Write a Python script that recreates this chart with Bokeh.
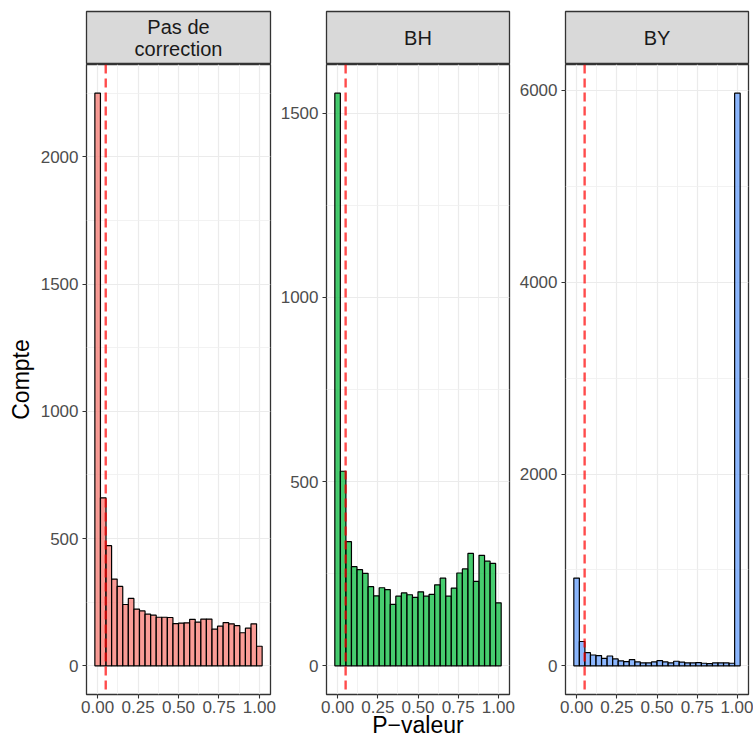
import numpy as np
from bokeh.plotting import figure
from bokeh.layouts import row, column
from bokeh.models import Range1d, FixedTicker, Span, ColumnDataSource
from bokeh.embed import file_html
from bokeh.resources import INLINE
from bokeh.core.properties import value

# ---------------- data ----------------
panel_titles = ["Pas de\ncorrection", "BH", "BY"]
counts_none = [2250, 660, 472, 341, 312, 241, 265, 223, 216, 203, 199, 191, 191, 190, 166,
               168, 169, 183, 172, 184, 184, 144, 156, 170, 165, 158, 130, 148, 165, 77]
counts_bh = [1554, 528, 337, 269, 261, 251, 215, 190, 212, 207, 167, 189, 198, 193, 186,
             201, 189, 194, 220, 238, 189, 211, 252, 263, 305, 229, 300, 284, 278, 171]
counts_by = [915, 254, 137, 113, 107, 79, 103, 72, 52, 45, 65, 41, 31, 31, 41,
             55, 41, 31, 48, 38, 31, 31, 34, 27, 24, 31, 31, 31, 27, 5971]
fill_colors = ["#F8766D", "#00BA38", "#619CFF"]
x_ticks = [0.0, 0.25, 0.5, 0.75, 1.0]
x_minor = [0.125, 0.375, 0.625, 0.875]
x_tick_labels = ["0.00", "0.25", "0.50", "0.75", "1.00"]
y_ticks_none = [0, 500, 1000, 1500, 2000]
y_ticks_bh = [0, 500, 1000, 1500]
y_ticks_by = [0, 2000, 4000, 6000]
threshold = 0.05
n_bins = 30
x_label = "P\u2212valeur"
y_label = "Compte"

FONT = "Liberation Sans"
frame_widths = [184, 183, 183]
borders_left = [86, 50, 50]
borders_right = [6, 6, 5]
TOP = 11
STRIP_H = 53
FRAME_H = 630

def minor_between(ticks):
    return [(a + b) / 2 for a, b in zip(ticks[:-1], ticks[1:])] + [ticks[-1] + (ticks[1] - ticks[0]) / 2]

def make_strip(title, fw, bl, br):
    s = figure(frame_width=fw, frame_height=STRIP_H, min_border_left=bl, min_border_right=br,
               min_border_top=TOP, min_border_bottom=0, x_range=Range1d(0, 1), y_range=Range1d(0, 1),
               x_axis_location=None, y_axis_location=None, toolbar_location=None,
               output_backend="svg", border_fill_color="white", background_fill_color="#D9D9D9",
               outline_line_color="#333333", outline_line_width=1.3)
    s.grid.visible = False
    s.text(x=[0.5], y=[0.5], text=[title], text_align="center", text_baseline="middle",
           text_font=value(FONT), text_font_size="20px", text_color="#1A1A1A", text_line_height=1.03)
    return s

def make_panel(counts, color, yticks, fw, bl, br, ylab=None, xlab=None):
    w = 1.0 / (n_bins - 1)
    centers = np.arange(n_bins) * w
    xmin, xmax = -w / 2, 1 + w / 2
    xpad = 0.05 * (xmax - xmin)
    ymax = max(counts)
    src = ColumnDataSource(dict(x=centers, top=counts))
    p = figure(frame_width=fw, frame_height=FRAME_H, min_border_left=bl, min_border_right=br,
               min_border_top=0, min_border_bottom=0,
               x_range=Range1d(xmin - xpad, xmax + xpad), y_range=Range1d(-0.05 * ymax, 1.05 * ymax),
               toolbar_location=None, output_backend="svg", background_fill_color="white",
               border_fill_color="white", outline_line_color="#333333", outline_line_width=1.3)
    p.vbar(x="x", top="top", bottom=0, width=w, source=src, fill_color=color, fill_alpha=0.72,
           line_color="black", line_width=1.2)
    p.add_layout(Span(location=threshold, dimension="height", line_color="red", line_alpha=0.7,
                      line_dash="9 5", line_width=2.4))
    p.xaxis.ticker = FixedTicker(ticks=x_ticks, minor_ticks=x_minor)
    p.xaxis.major_label_overrides = {t: l for t, l in zip(x_ticks, x_tick_labels)}
    p.yaxis.ticker = FixedTicker(ticks=yticks, minor_ticks=minor_between(yticks))
    p.yaxis.major_label_overrides = {t: str(t) for t in yticks}
    for ax in (p.xaxis, p.yaxis):
        ax.axis_line_color = None
        ax.major_tick_line_color = "#333333"
        ax.major_tick_line_width = 1.1
        ax.major_tick_out = 4
        ax.major_tick_in = 0
        ax.minor_tick_line_color = None
        ax.major_label_text_font = FONT
        ax.major_label_text_font_size = "17px"
        ax.major_label_text_color = "#4D4D4D"
        ax.axis_label_text_font = FONT
        ax.axis_label_text_font_style = "normal"
        ax.axis_label_text_color = "black"
        ax.axis_label_text_font_size = "23px"
    p.xaxis.major_label_standoff = 2
    p.yaxis.major_label_standoff = 4
    if ylab:
        p.yaxis.axis_label = ylab
        p.yaxis.axis_label_standoff = 4
    if xlab:
        p.xaxis.axis_label = xlab
        p.xaxis.axis_label_standoff = -4
    for g in (p.xgrid, p.ygrid):
        g.grid_line_color = "#EBEBEB"
        g.grid_line_width = 1.2
        g.minor_grid_line_color = "#EFEFEF"
        g.minor_grid_line_width = 0.8
    return p

all_counts = [counts_none, counts_bh, counts_by]
all_yticks = [y_ticks_none, y_ticks_bh, y_ticks_by]
cols = []
for i in range(3):
    strip = make_strip(panel_titles[i], frame_widths[i], borders_left[i], borders_right[i])
    panel = make_panel(all_counts[i], fill_colors[i], all_yticks[i], frame_widths[i],
                       borders_left[i], borders_right[i],
                       ylab=y_label if i == 0 else None, xlab=x_label if i == 1 else None)
    cols.append(column(strip, panel, spacing=0))

layout = row(*cols, spacing=0)
open("out.html", "w").write(file_html(layout, INLINE))
